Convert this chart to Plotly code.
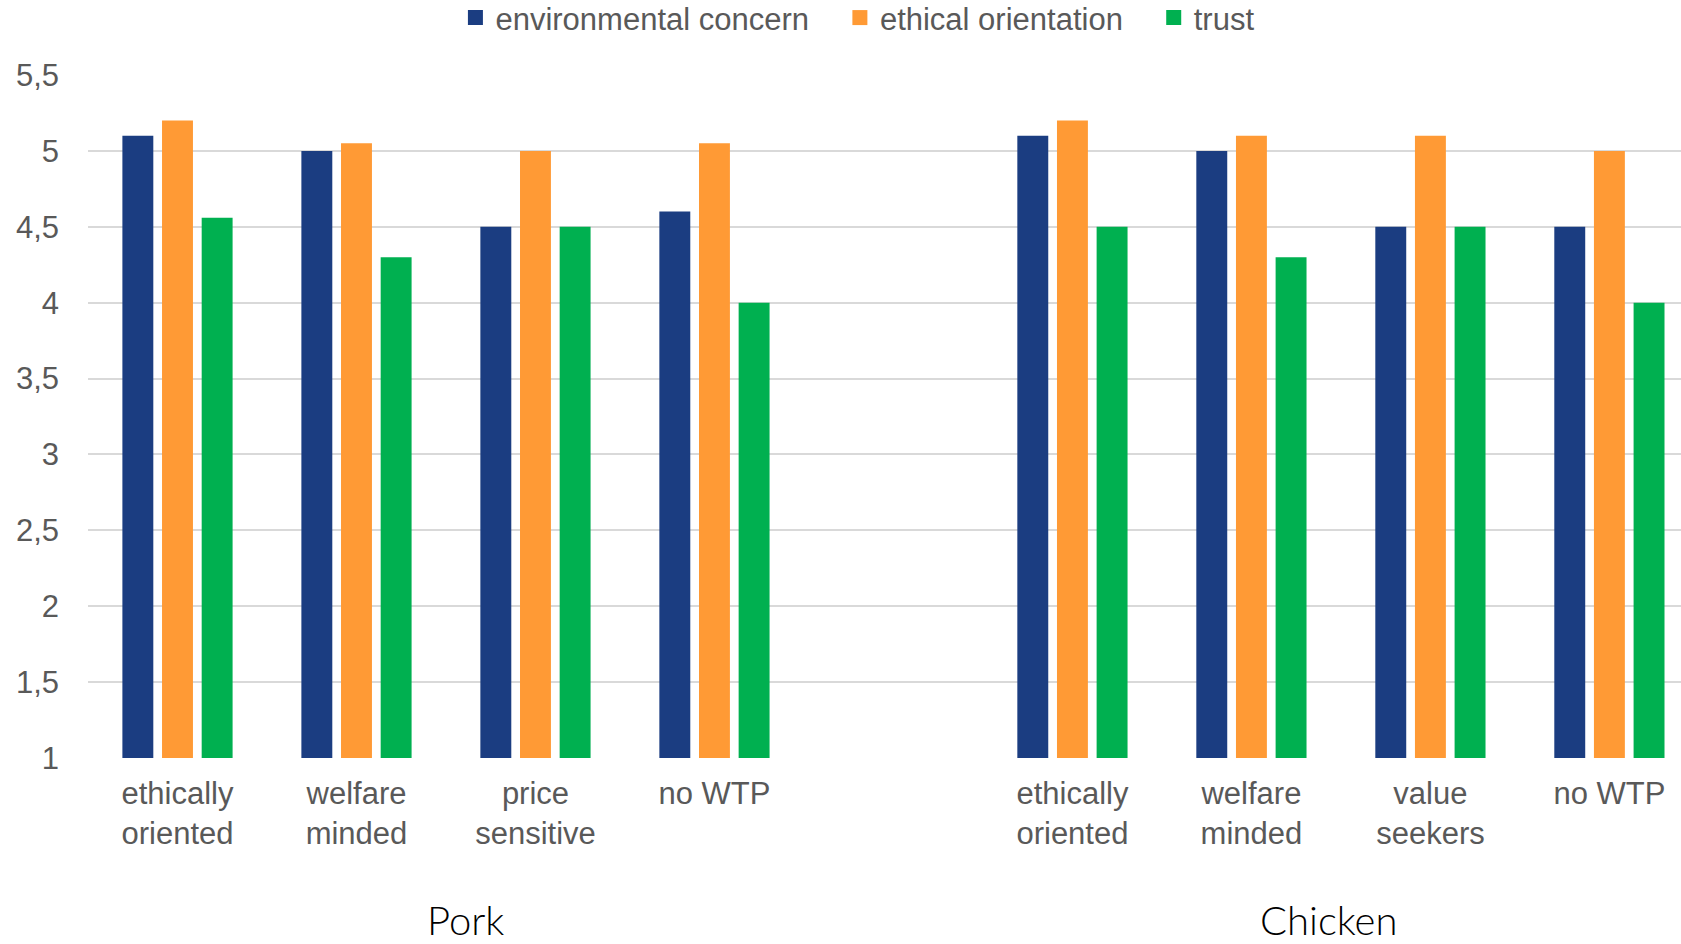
import plotly.graph_objects as go

# ---- data ----
groups = ["Pork", "Chicken"]
pork_segments = ["ethically<br>oriented", "welfare<br>minded", "price<br>sensitive", "no WTP"]
chicken_segments = ["ethically<br>oriented", "welfare<br>minded", "value<br>seekers", "no WTP"]

series_names = ["environmental concern", "ethical orientation", "trust"]
pork_env = [5.1, 5.0, 4.5, 4.6]
pork_eth = [5.2, 5.05, 5.0, 5.05]
pork_trust = [4.56, 4.3, 4.5, 4.0]
chicken_env = [5.1, 5.0, 4.5, 4.5]
chicken_eth = [5.2, 5.1, 5.1, 5.0]
chicken_trust = [4.5, 4.3, 4.5, 4.0]

y_tick_vals = [1, 1.5, 2, 2.5, 3, 3.5, 4, 4.5, 5, 5.5]
y_tick_text = ["1", "1,5", "2", "2,5", "3", "3,5", "4", "4,5", "5", "5,5"]

colors = ["#1B3D81", "#FF9A35", "#00B050"]

# positions: pork slots 0..3, one empty slot, chicken slots 5..8
pork_x = list(range(len(pork_segments)))
chicken_x = [len(pork_segments) + 1 + i for i in range(len(chicken_segments))]
all_x = pork_x + chicken_x
all_labels = pork_segments + chicken_segments

series_vals = [pork_env + chicken_env, pork_eth + chicken_eth, pork_trust + chicken_trust]

fig = go.Figure()
for name, vals, col in zip(series_names, series_vals, colors):
    fig.add_trace(go.Bar(
        x=all_x, y=vals, name=name, showlegend=False,
        marker=dict(color=col, line=dict(width=0)),
    ))
# legend entries with larger square swatches (padding keeps item spacing)
pad = "\u00a0\u00a0\u00a0"
for i, (name, col) in enumerate(zip(series_names, colors)):
    fig.add_trace(go.Scatter(
        x=[None], y=[None], mode="markers",
        name=name + (pad if i < len(series_names) - 1 else ""),
        marker=dict(symbol="square", size=15, color=col),
    ))

font_family = "Liberation Sans, Arial, sans-serif"
gray = "#595959"
fsize = 31

fig.update_layout(
    width=1681, height=944,
    barmode="group",
    bargap=0.3355,
    bargroupgap=0.22,
    plot_bgcolor="white",
    paper_bgcolor="white",
    margin=dict(l=88, r=0, t=75, b=186, autoexpand=False),
    font=dict(family=font_family, size=fsize, color=gray),
    showlegend=True,
    legend=dict(
        orientation="h",
        x=0.483, xanchor="center",
        yref="container",
        y=0.981, yanchor="middle",
        font=dict(family=font_family, size=fsize, color=gray),
        traceorder="normal",
        itemclick=False,
    ),
    xaxis=dict(
        range=[-0.5, 8.4],
        tickvals=all_x,
        ticktext=all_labels,
        showgrid=False,
        zeroline=False,
        showline=False,
        ticks="",
        ticklabelstandoff=14,
        tickfont=dict(family=font_family, size=fsize, color=gray),
    ),
    yaxis=dict(
        range=[1, 5.5],
        tickvals=y_tick_vals,
        ticktext=y_tick_text,
        showgrid=True,
        gridcolor="#D9D9D9",
        gridwidth=2,
        zeroline=False,
        showline=False,
        ticks="",
        ticklabelstandoff=28,
        tickfont=dict(family=font_family, size=fsize, color=gray),
    ),
)

group_centers = [sum(pork_x) / len(pork_x), sum(chicken_x) / len(chicken_x)]
label_shift = [0.11, -0.07]
for g, cx, dx in zip(groups, group_centers, label_shift):
    fig.add_annotation(
        x=cx + dx, xref="x", y=-0.2375, yref="paper",
        text=g, showarrow=False, yanchor="middle",
        font=dict(family="Lato, sans-serif", size=40, color="#000000", weight=300),
    )

fig.write_html("out.html")
